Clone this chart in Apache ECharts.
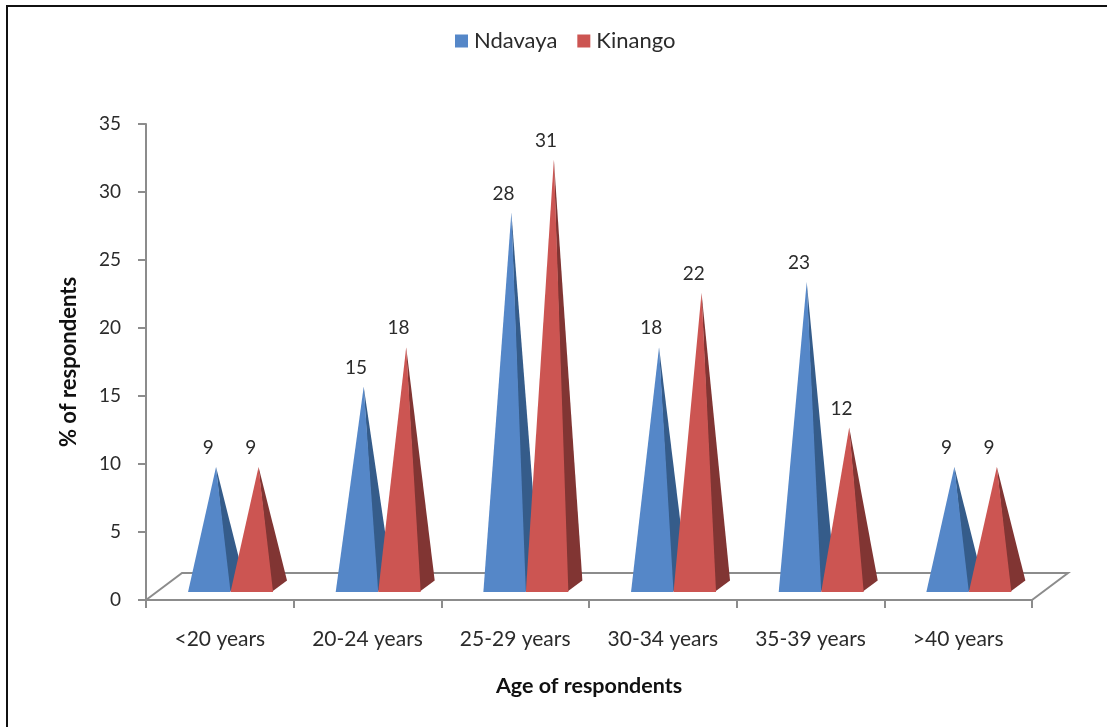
<!DOCTYPE html>
<html><head><meta charset="utf-8">
<style>html,body{margin:0;padding:0;background:#fff}#c{width:1107px;height:727px}</style>
<script src="https://cdn.jsdelivr.net/npm/echarts@6/dist/echarts.min.js"></script></head>
<body><div id="c"></div>
<script>
const categories = ['<20 years','20-24 years','25-29 years','30-34 years','35-39 years','>40 years'];
const ndavayaLabels = [9,15,28,18,23,9];
const kinangoLabels = [9,18,31,22,12,9];
// drawn tip heights
const ndavayaHeights = [9.2,15.1,27.9,18,22.8,9.2];
const kinangoHeights = [9.2,18,31.8,22,12.1,9.2];
const yTicks = {min:0,max:35,interval:5};
const font = 'Lato';
const textColor = '#2b2b2b';
const axisColor = '#8c8c8c';

const chart = echarts.init(document.getElementById('c'),null,{renderer:'canvas'});

function cone(front, side, leftOffset, labels){
  return function(params, api){
    const i = api.value(0), h = api.value(1);
    const unit = api.size([0,1])[1];
    const c = api.coord([i,0]);
    const base = c[1]-8, l = c[0]+leftOffset, w = 42.5;
    const apex = [l+28, base-h*unit];
    const r = [l+w, base];
    return {type:'group',children:[
      {type:'polygon',shape:{points:[apex,[l+w-1.5,base],[l+w+14,base-11.5]]},style:{fill:side}},
      {type:'polygon',shape:{points:[[l,base],r,apex]},style:{fill:front}},
      {type:'text',style:{text:String(labels[i]),x:l+w/2-1,y:apex[1]-19,align:'center',verticalAlign:'middle',
        fontFamily:font,fontSize:19,fill:textColor}}
    ]};
  };
}
function floor(params, api){
  const band = api.size([1,0])[0];
  const a = api.coord([0,0]), b = api.coord([5,0]);
  const x0 = a[0]-band/2, x1 = b[0]+band/2, y0 = a[1];
  const dx = 36, dy = 27;
  return {type:'polyline',shape:{points:[[x0,y0],[x0+dx,y0-dy],[x1+dx,y0-dy],[x1,y0]]},
    style:{stroke:axisColor,lineWidth:2,fill:null}};
}
chart.setOption({
  animation:false,
  backgroundColor:'#fff',
  graphic:[{type:'polyline',silent:true,shape:{points:[[7,727],[7,6],[1107,6]]},style:{stroke:'#111',lineWidth:2,fill:null}}],
  legend:{data:['Ndavaya','Kinango'],left:450,top:25,icon:'rect',itemWidth:13,itemHeight:13,itemGap:20,
    textStyle:{fontFamily:font,fontSize:22,color:textColor,padding:[0,0,0,1]}},
  grid:{left:146,right:75,top:124,bottom:127},
  xAxis:{type:'category',data:categories,name:'Age of respondents',nameLocation:'middle',nameGap:75,
    nameTextStyle:{fontFamily:font,fontSize:21.5,fontWeight:'bold',color:'#111'},
    axisLine:{lineStyle:{color:axisColor,width:2}},
    axisTick:{show:true,alignWithLabel:false,length:8,lineStyle:{color:axisColor,width:2}},
    axisLabel:{fontFamily:font,fontSize:21,color:textColor,margin:29,interval:0},
    splitLine:{show:false}},
  yAxis:{type:'value',min:yTicks.min,max:yTicks.max,interval:yTicks.interval,name:'% of respondents',nameLocation:'middle',nameGap:66,
    nameTextStyle:{fontFamily:font,fontSize:22,fontWeight:'bold',color:'#111'},
    axisLine:{show:true,lineStyle:{color:axisColor,width:2}},
    axisTick:{show:true,length:8,lineStyle:{color:axisColor,width:2}},
    axisLabel:{fontFamily:font,fontSize:19,color:textColor,margin:25},
    splitLine:{show:false}},
  series:[
    {type:'custom',name:'floor',silent:true,renderItem:floor,data:[[0,0]],encode:{x:0,y:1},clip:false,z:1},
    {type:'custom',name:'Ndavaya',itemStyle:{color:'#5587c8'},renderItem:cone('#5587c8','#355c8a',-31.8,ndavayaLabels),
      data:ndavayaHeights.map((v,i)=>[i,v]),encode:{x:0,y:1},clip:false,z:2},
    {type:'custom',name:'Kinango',itemStyle:{color:'#cc5552'},renderItem:cone('#cc5552','#813533',10.7,kinangoLabels),
      data:kinangoHeights.map((v,i)=>[i,v]),encode:{x:0,y:1},clip:false,z:3}
  ]
});
</script></body></html>
